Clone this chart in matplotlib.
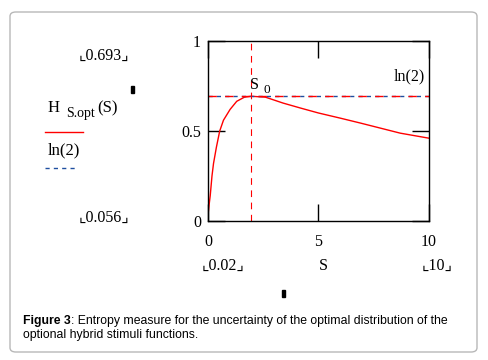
import numpy as np
import matplotlib
matplotlib.use("Agg")
import matplotlib.pyplot as plt
from matplotlib.patches import FancyBboxPatch, Rectangle

# Data
S = [0.02, 0.05, 0.1, 0.18, 0.25, 0.38, 0.53, 0.7, 1.0, 1.3, 1.65, 1.95,
     2.6, 3.4, 4.2, 5.0, 6.0, 6.9, 7.8, 8.7, 10.0]
H = [0.056, 0.09, 0.14, 0.25, 0.32, 0.41, 0.50, 0.56, 0.62, 0.665, 0.688, 0.693,
     0.688, 0.655, 0.627, 0.60, 0.571, 0.544, 0.516, 0.488, 0.46]
ln2 = 0.693
S0 = 1.95
x_ticks = [0, 5, 10]
y_ticks = [0, 0.5, 1]

serif = "Liberation Serif"
W, Hpx = 489, 360

fig = plt.figure(figsize=(4.89, 3.6), dpi=100)

# rounded frame around the figure
frame = FancyBboxPatch((10 / W, 1 - 352 / Hpx), 467 / W, 340 / Hpx,
                       boxstyle="round,pad=0,rounding_size=0.012",
                       transform=fig.transFigure, fill=False,
                       edgecolor="#b8b8b8", linewidth=1.0)
fig.patches.append(frame)

ax = fig.add_axes([208 / W, 1 - 221 / Hpx, 221 / W, 180 / Hpx])
ax.plot(S, H, color="red", linewidth=1.0)
ax.axhline(ln2, color="#1f4fa0", linestyle=(0, (3, 3)), linewidth=1.0)
ax.axhline(ln2, color="red", linestyle=(0, (6, 6)), linewidth=1.0)
ax.axvline(S0, color="red", linestyle=(0, (6, 5)), linewidth=0.8)

ax.set_xlim(0, 10)
ax.set_ylim(0, 1)
ax.set_xticks(x_ticks)
ax.set_yticks(y_ticks)
ax.set_xticklabels(["0", "5", "10"], fontfamily=serif, fontsize=11.5)
ax.set_yticklabels(["0", "0.5", "1"], fontfamily=serif, fontsize=11.5)
ax.tick_params(direction="in", length=12, width=1.0, top=True, right=True, pad=5)
ax.tick_params(axis="x", pad=9)
for sp in ax.spines.values():
    sp.set_linewidth(1.0)

ax.text(S0 - 0.05, ln2 + 0.02, "S", fontfamily=serif, fontsize=11.5, ha="left", va="bottom")
ax.text(S0 + 0.55, ln2 - 0.0, "0", fontfamily=serif, fontsize=9.5, ha="left", va="bottom")
ax.text(9.8, 0.76, "ln(2)", fontfamily=serif, fontsize=11.5, ha="right", va="bottom")

# Mathcad style side labels
def px(x, y):
    return x / W, 1 - y / Hpx

corner_font = [serif, "DejaVu Sans"]
fig.text(*px(79, 56), "\u231e0.693\u231f", fontfamily=corner_font, fontsize=11.5, va="center", ha="left")
fig.text(*px(79, 218), "\u231e0.056\u231f", fontfamily=corner_font, fontsize=11.5, va="center", ha="left")
fig.text(*px(202, 266), "\u231e0.02\u231f", fontfamily=corner_font, fontsize=11.5, va="center", ha="left")
fig.text(*px(422, 266), "\u231e10\u231f", fontfamily=corner_font, fontsize=11.5, va="center", ha="left")
fig.text(*px(323, 266), "S", fontfamily=serif, fontsize=11.5, va="center", ha="center")

fig.text(*px(48, 108), "H", fontfamily=serif, fontsize=12, va="center", ha="left")
fig.text(*px(66, 113), "S.opt", fontfamily=serif, fontsize=10, va="center", ha="left")
fig.text(*px(97, 108), "(S)", fontfamily=serif, fontsize=12, va="center", ha="left")
fig.add_artist(plt.Line2D([45 / W, 83 / W], [1 - 132 / Hpx] * 2, color="red", linewidth=1.0))
fig.text(*px(48, 150), "ln(2)", fontfamily=serif, fontsize=12, va="center", ha="left")
fig.add_artist(plt.Line2D([45 / W, 77 / W], [1 - 168 / Hpx] * 2, color="#1f4fa0",
                          linewidth=1.0, linestyle=(0, (3, 3))))

# small cursor marks
fig.patches.append(Rectangle(px(131, 93), 3 / W, 7 / Hpx, transform=fig.transFigure, color="black"))
fig.patches.append(Rectangle(px(282, 297), 3 / W, 7 / Hpx, transform=fig.transFigure, color="black"))

# caption
cap_font = "Liberation Sans"
fig.text(*px(23, 321), "Figure 3", fontfamily=cap_font, fontsize=8.8, fontweight="bold",
         va="center", ha="left")
fig.text(*px(71, 321), ": Entropy measure for the uncertainty of the optimal distribution of the",
         fontfamily=cap_font, fontsize=8.8, va="center", ha="left")
fig.text(*px(23, 335), "optional hybrid stimuli functions.", fontfamily=cap_font, fontsize=8.8,
         va="center", ha="left")

fig.savefig("out.png", dpi=100)
